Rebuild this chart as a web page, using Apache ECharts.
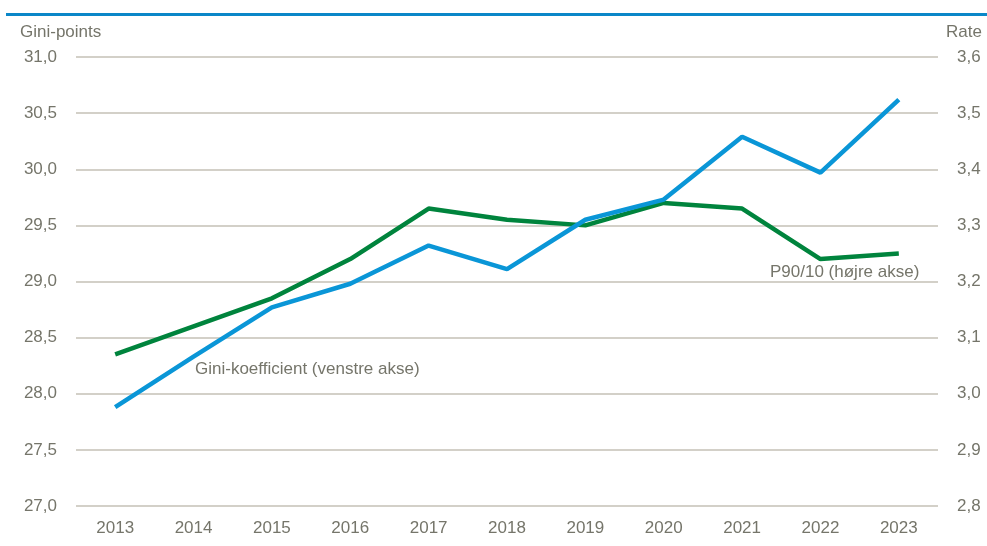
<!DOCTYPE html>
<html>
<head>
<meta charset="utf-8">
<script src="https://cdn.jsdelivr.net/npm/echarts@6/dist/echarts.min.js"></script>
<style>
  html, body { margin: 0; padding: 0; background: #fff; }
  #chart { width: 987px; height: 546px; }
</style>
</head>
<body>
<div id="chart"></div>
<script>
const years = ['2013', '2014', '2015', '2016', '2017', '2018', '2019', '2020', '2021', '2022', '2023'];
const gini = [27.88, 28.33, 28.77, 28.98, 29.32, 29.11, 29.55, 29.73, 30.29, 29.97, 30.62];
const p9010 = [3.07, 3.12, 3.17, 3.24, 3.33, 3.31, 3.30, 3.34, 3.33, 3.24, 3.25];

const FONT = '"Liberation Sans", Arial, sans-serif';
const FS = 17;
const TXT = '#75756a';
const GRID = '#c4c1b6';

const fmt = (d) => v => v.toFixed(d).replace('.', ',');

const chart = echarts.init(document.getElementById('chart'));

chart.setOption({
  animation: false,
  backgroundColor: '#fff',
  grid: { left: 76, right: 49, top: 57, bottom: 40 },
  xAxis: {
    type: 'category',
    data: years,
    boundaryGap: true,
    axisLine: { show: false },
    axisTick: { show: false },
    axisLabel: { color: TXT, fontFamily: FONT, fontSize: FS, margin: 14 }
  },
  yAxis: [
    {
      type: 'value',
      min: 27, max: 31, interval: 0.5,
      axisLine: { show: false },
      axisTick: { show: false },
      axisLabel: { color: TXT, fontFamily: FONT, fontSize: FS, margin: 19, formatter: fmt(1) },
      splitLine: { lineStyle: { color: GRID, width: 1.5 } }
    },
    {
      type: 'value',
      min: 2.8, max: 3.6, interval: 0.1,
      axisLine: { show: false },
      axisTick: { show: false },
      axisLabel: { color: TXT, fontFamily: FONT, fontSize: FS, margin: 19, formatter: fmt(1) },
      splitLine: { show: false }
    }
  ],
  series: [
    {
      name: 'P90/10 (højre akse)',
      type: 'line',
      yAxisIndex: 1,
      data: p9010,
      symbol: 'none',
      lineStyle: { color: '#00843d', width: 4.5 },
      z: 2
    },
    {
      name: 'Gini-koefficient (venstre akse)',
      type: 'line',
      yAxisIndex: 0,
      data: gini,
      symbol: 'none',
      lineStyle: { color: '#0a96d7', width: 4.5 },
      z: 3
    }
  ],
  graphic: [
    { type: 'rect', shape: { x: 6, y: 13, width: 981, height: 3 }, style: { fill: '#0a87c8' } },
    { type: 'text', left: 20, top: 24, style: { text: 'Gini-points', fill: TXT, font: FS + 'px ' + FONT } },
    { type: 'text', right: 5, top: 24, style: { text: 'Rate', fill: TXT, font: FS + 'px ' + FONT } },
    { type: 'text', left: 195, top: 361, style: { text: 'Gini-koefficient (venstre akse)', fill: TXT, font: FS + 'px ' + FONT } },
    { type: 'text', left: 770, top: 264, style: { text: 'P90/10 (højre akse)', fill: TXT, font: FS + 'px ' + FONT } }
  ]
});
</script>
</body>
</html>
